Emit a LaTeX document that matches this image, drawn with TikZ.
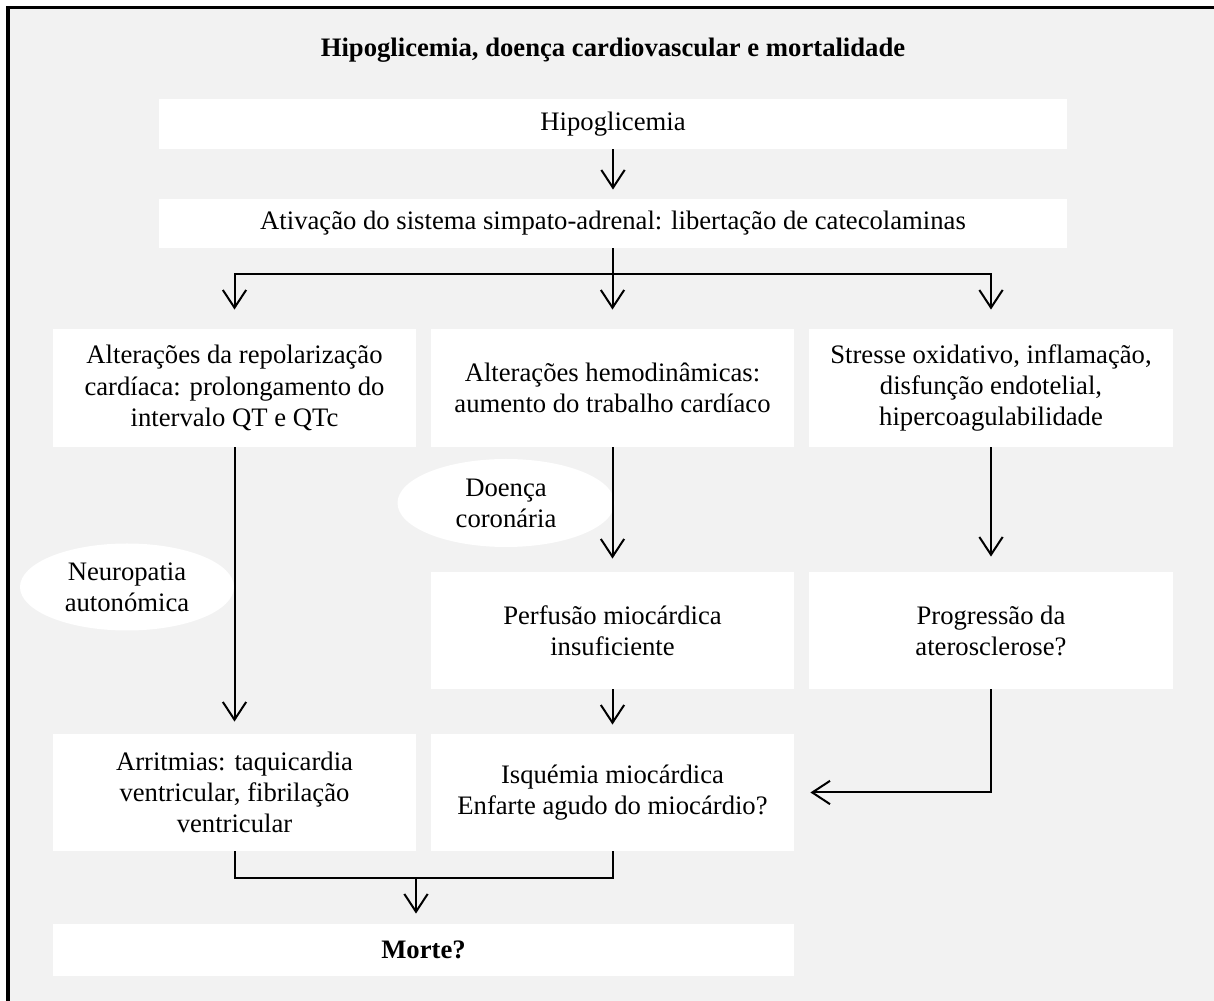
\documentclass[tikz,border=0pt]{standalone}
\usepackage{fontspec}
\setmainfont{Liberation Serif}
\usetikzlibrary{arrows.meta,shapes.geometric}
\definecolor{bgc}{HTML}{F2F2F2}
\begin{document}
\begin{tikzpicture}[x=0.45pt,y=-0.45pt,
  font=\fontsize{12}{14}\selectfont,
  box/.style 2 args={fill=white, draw=none, inner sep=0pt, align=center,
    minimum width=#1*0.45pt, minimum height=#2*0.45pt},
  oval/.style 2 args={ellipse, fill=white, draw=none, inner sep=0pt, align=center,
    minimum width=#1*0.45pt, minimum height=#2*0.45pt},
  conn/.style={line width=0.9pt, black},
  arr/.style={conn, -{Straight Barb[length=8pt,width=10.5pt]}, shorten >=#1*0.45pt},
  arr/.default=10]
\useasboundingbox (0,0) rectangle (1214,1001);
\clip (0,0) rectangle (1214,1001);
% background frame
\fill[bgc] (8,8) rectangle (1260,1060);
\draw[line width=1.35pt] (8,1060) -- (8,8) -- (1260,8);
% title
\node[font=\fontsize{12}{14}\selectfont\bfseries] (title) at (613,50) {Hipoglicemia, doença cardiovascular e mortalidade};
% boxes
\node[box={908}{50}] (hipo) at (613,124) {Hipoglicemia};
\node[box={908}{49}] (ativ) at (613,223.5) {Ativação do sistema simpato-adrenal: libertação de catecolaminas};
\node[box={363}{118}] (alt1) at (234.5,388) {Alterações da repolarização\\cardíaca: prolongamento do\\intervalo QT e QTc};
\node[box={363}{118}] (alt2) at (612.5,388) {Alterações hemodinâmicas:\\aumento do trabalho cardíaco};
\node[box={364}{118}] (alt3) at (991,388) {Stresse oxidativo, inflamação,\\disfunção endotelial,\\hipercoagulabilidade};
\node[box={363}{117}] (perf) at (612.5,630.5) {Perfusão miocárdica\\insuficiente};
\node[box={364}{117}] (prog) at (991,630.5) {Progressão da\\aterosclerose?};
\node[box={363}{117}] (arrit) at (234.5,792.5) {Arritmias: taquicardia\\ventricular, fibrilação\\ventricular};
\node[box={363}{117}] (isq) at (612.5,792.5) {Isquémia miocárdica\\Enfarte agudo do miocárdio?};
\node[box={741}{52}, font=\fontsize{12}{14}\selectfont\bfseries] (morte) at (423.5,950) {Morte?};
% ovals
\node[oval={214}{87}] (neuro) at (127,587) {Neuropatia\\autonómica};
\node[oval={217}{88}] (coron) at (506,503) {Doença\\coronária};
% connectors
\draw[arr=9] (hipo.south) -- (ativ.north);
\draw[arr=19] (ativ.south -| alt2.north) -- (alt2.north);
\draw[arr=19] (ativ.south -| alt2.north) -- ++(0,26) -| (alt1.north);
\draw[arr=19] (ativ.south -| alt2.north) -- ++(0,26) -| (alt3.north);
\draw[arr=12] (alt1.south) -- (arrit.north);
\draw[arr=13] (alt2.south) -- (perf.north);
\draw[arr=15] (alt3.south) -- (prog.north);
\draw[arr=9] (perf.south) -- (isq.north);
\draw[arr=16] (prog.south) |- (isq.east);
\coordinate (join) at (416,878);
\draw[conn] (arrit.south) |- (join);
\draw[conn] (isq.south) |- (join);
\draw[arr=10] (join) -- (join |- morte.north);
\end{tikzpicture}
\end{document}
